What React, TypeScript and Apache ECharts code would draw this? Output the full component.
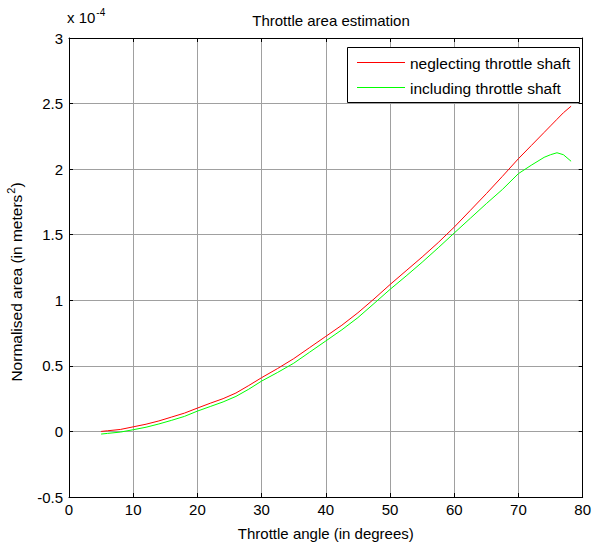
import React, { useEffect, useRef } from "react";
import * as echarts from "echarts";

const angles = [5, 6, 8, 10, 12, 14, 16, 18, 20, 22, 24, 26, 28, 30, 32.5, 35, 37.5, 40, 42.5, 45, 47.5, 50, 52.5, 55, 57.5, 60, 62.5, 65, 67.5, 70, 72, 74, 75, 76, 77, 78.2];
// values in units of 1e-4 m^2
const neglectingShaft = [0.0, 0.005, 0.015, 0.035, 0.055, 0.08, 0.11, 0.14, 0.178, 0.215, 0.25, 0.293, 0.35, 0.41, 0.48, 0.555, 0.64, 0.725, 0.81, 0.905, 1.01, 1.12, 1.225, 1.33, 1.44, 1.558, 1.685, 1.813, 1.945, 2.08, 2.18, 2.28, 2.33, 2.38, 2.43, 2.48];
const includingShaft = [-0.02, -0.015, -0.005, 0.013, 0.032, 0.057, 0.085, 0.115, 0.155, 0.19, 0.225, 0.267, 0.322, 0.384, 0.45, 0.52, 0.605, 0.69, 0.775, 0.868, 0.975, 1.083, 1.185, 1.29, 1.4, 1.513, 1.625, 1.737, 1.845, 1.966, 2.03, 2.09, 2.11, 2.125, 2.11, 2.06];
const seriesNames = ["neglecting throttle shaft", "including throttle shaft"];
const seriesColors = ["#ff0000", "#00ff00"];

const FONT = "Liberation Sans, Arial, sans-serif";

export default function App() {
  const ref = useRef<HTMLDivElement>(null);
  useEffect(() => {
    if (!ref.current) return;
    const chart = echarts.init(ref.current, null, { renderer: "svg" });
    const axisCommon = {
      axisLine: { show: true, onZero: false, lineStyle: { color: "#000", width: 1 } },
      axisTick: { show: true, inside: true, length: 4, lineStyle: { color: "#000" } },
    };
    const legendRows = [62.5, 87.5];
    const legendGraphics: any[] = [
      {
        type: "rect",
        z: 100,
        shape: { x: 347.5, y: 47.5, width: 232, height: 55 },
        style: { fill: "#fff", stroke: "#000", lineWidth: 1 },
      },
    ];
    seriesNames.forEach((n, i) => {
      legendGraphics.push({
        type: "line",
        z: 101,
        shape: { x1: 357, y1: legendRows[i], x2: 405, y2: legendRows[i] },
        style: { stroke: seriesColors[i], lineWidth: 1 },
      });
      legendGraphics.push({
        type: "text",
        z: 101,
        x: 410,
        y: legendRows[i] + 1,
        style: {
          text: n,
          fontFamily: FONT,
          fontSize: 15.5,
          fill: "#000",
          verticalAlign: "middle",
          align: "left",
        },
      });
    });
    chart.setOption({
      animation: false,
      backgroundColor: "#fff",
      color: seriesColors,
      title: {
        text: "Throttle area estimation",
        left: 326,
        textAlign: "center",
        top: 8,
        textStyle: { fontFamily: FONT, fontSize: 15, fontWeight: "normal", color: "#000" },
      },
      grid: { left: 69, right: 10, top: 38, bottom: 52, containLabel: false },
      xAxis: [
        {
          type: "value",
          min: 0,
          max: 80,
          interval: 10,
          position: "bottom",
          ...axisCommon,
          axisLabel: { color: "#000", fontFamily: FONT, fontSize: 15, margin: 5 },
          splitLine: { show: true, lineStyle: { color: "#a0a0a0", width: 1 } },
          name: "Throttle angle (in degrees)",
          nameLocation: "middle",
          nameGap: 29,
          nameTextStyle: { color: "#000", fontFamily: FONT, fontSize: 15 },
        },
        {
          type: "value",
          min: 0,
          max: 80,
          interval: 10,
          position: "top",
          ...axisCommon,
          axisLabel: { show: false },
          splitLine: { show: false },
        },
      ],
      yAxis: [
        {
          type: "value",
          min: -0.5,
          max: 3,
          interval: 0.5,
          position: "left",
          ...axisCommon,
          axisLabel: { color: "#000", fontFamily: FONT, fontSize: 15, margin: 6 },
          splitLine: { show: true, lineStyle: { color: "#a0a0a0", width: 1 } },
        },
        {
          type: "value",
          min: -0.5,
          max: 3,
          interval: 0.5,
          position: "right",
          ...axisCommon,
          axisLabel: { show: false },
          splitLine: { show: false },
        },
      ],
      graphic: [
        {
          type: "text",
          left: 67,
          top: 7,
          style: {
            text: "x 10{sup|-4}",
            fontFamily: FONT,
            fontSize: 15,
            fill: "#000",
            rich: { sup: { fontFamily: FONT, fontSize: 10, fill: "#000", padding: [0, 0, 11, 1] } },
          },
        },
        {
          type: "text",
          x: 16,
          y: 282,
          rotation: Math.PI / 2,
          style: {
            text: "Normalised area (in meters{sup|2})",
            fontFamily: FONT,
            fontSize: 15.5,
            fill: "#000",
            align: "center",
            verticalAlign: "middle",
            rich: { sup: { fontFamily: FONT, fontSize: 11, fill: "#000", padding: [0, 0, 10, 1] } },
          },
        },
        ...legendGraphics,
      ],
      series: [
        {
          name: seriesNames[0],
          type: "line",
          data: angles.map((a, i) => [a, neglectingShaft[i]]),
          symbol: "none",
          lineStyle: { color: seriesColors[0], width: 1 },
          itemStyle: { color: seriesColors[0] },
        },
        {
          name: seriesNames[1],
          type: "line",
          data: angles.map((a, i) => [a, includingShaft[i]]),
          symbol: "none",
          lineStyle: { color: seriesColors[1], width: 1 },
          itemStyle: { color: seriesColors[1] },
        },
      ],
    });
    return () => chart.dispose();
  }, []);
  return (
    <div
      ref={ref}
      style={{ position: "absolute", left: 0, top: 0, width: 594, height: 549, background: "#fff" }}
    />
  );
}
